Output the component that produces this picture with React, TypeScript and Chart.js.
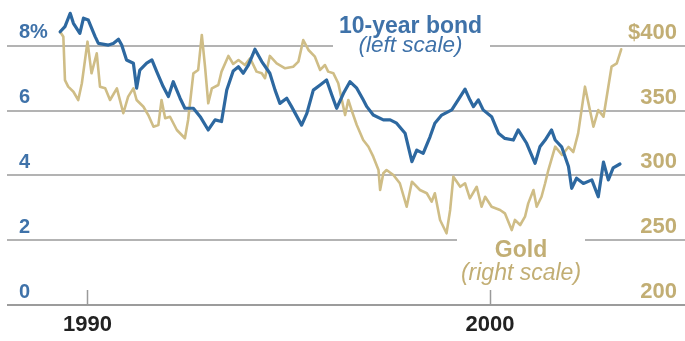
import React, { useEffect, useRef } from "react";
import { Chart, registerables } from "chart.js";

Chart.register(...registerables);

// 10-year bond yield (%), left scale
const bondYears = [
  1989.32, 1989.44, 1989.57, 1989.65, 1989.81, 1989.9, 1990.02, 1990.19, 1990.27, 1990.52,
  1990.64, 1990.77, 1990.85, 1990.97, 1991.14, 1991.22, 1991.3, 1991.47, 1991.6, 1991.72,
  1991.88, 1992.01, 1992.13, 1992.3, 1992.42, 1992.63, 1992.8, 1993.0, 1993.17, 1993.33,
  1993.46, 1993.62, 1993.75, 1993.87, 1994.0, 1994.16, 1994.33, 1994.53, 1994.66, 1994.78,
  1994.95, 1995.07, 1995.32, 1995.45, 1995.61, 1995.78, 1995.94, 1996.07, 1996.19, 1996.36,
  1996.52, 1996.69, 1996.85, 1996.94, 1997.1, 1997.35, 1997.52, 1997.68, 1997.89, 1998.06,
  1998.18, 1998.34, 1998.51, 1998.63, 1998.8, 1999.05, 1999.21, 1999.38, 1999.5, 1999.59,
  1999.71, 1999.83, 2000.04, 2000.21, 2000.37, 2000.58, 2000.7, 2000.91, 2001.12, 2001.24,
  2001.37, 2001.53, 2001.62, 2001.78, 2001.95, 2002.03, 2002.15, 2002.32, 2002.53, 2002.69,
  2002.82, 2002.94, 2003.06, 2003.23,
];
const bondYield = [
  8.43, 8.59, 9.0, 8.69, 8.38, 8.85, 8.79, 8.28, 8.07, 8.02,
  8.07, 8.2, 8.02, 7.56, 7.46, 6.69, 7.25, 7.46, 7.56, 7.2,
  6.74, 6.43, 6.89, 6.38, 6.07, 6.07, 5.81, 5.4, 5.71, 5.66,
  6.63, 7.22, 7.35, 7.15, 7.41, 7.89, 7.51, 7.15, 6.63, 6.22,
  6.38, 6.12, 5.55, 5.91, 6.63, 6.79, 6.94, 6.48, 6.07, 6.53,
  6.89, 6.69, 6.33, 6.12, 5.86, 5.71, 5.71, 5.61, 5.3, 4.42,
  4.78, 4.68, 5.19, 5.61, 5.86, 6.02, 6.33, 6.66, 6.33, 6.12,
  6.33, 6.02, 5.81, 5.3, 5.14, 5.09, 5.4, 4.99, 4.37, 4.88,
  5.09, 5.4, 5.09, 4.88, 4.27, 3.6, 3.91, 3.75, 3.86, 3.34,
  4.41, 3.86, 4.23, 4.35,
];

// Gold price ($), right scale
const goldYears = [
  1989.32, 1989.4, 1989.44, 1989.52, 1989.65, 1989.77, 1989.86, 1990.0, 1990.1, 1990.23,
  1990.31, 1990.44, 1990.56, 1990.73, 1990.89, 1991.01, 1991.14, 1991.22, 1991.39, 1991.51,
  1991.64, 1991.76, 1991.84, 1991.93, 1992.05, 1992.22, 1992.42, 1992.5, 1992.63, 1992.75,
  1992.84, 1992.92, 1993.0, 1993.09, 1993.25, 1993.33, 1993.5, 1993.62, 1993.75, 1993.91,
  1994.04, 1994.2, 1994.33, 1994.41, 1994.53, 1994.7, 1994.91, 1995.11, 1995.24, 1995.36,
  1995.49, 1995.65, 1995.78, 1995.9, 1995.98, 1996.11, 1996.23, 1996.32, 1996.4, 1996.48,
  1996.56, 1996.69, 1996.85, 1996.98, 1997.1, 1997.23, 1997.27, 1997.35, 1997.43, 1997.6,
  1997.76, 1997.93, 1998.06, 1998.26, 1998.43, 1998.55, 1998.63, 1998.76, 1998.92, 1999.01,
  1999.09, 1999.26, 1999.38, 1999.5, 1999.67, 1999.79, 1999.88, 2000.04, 2000.25, 2000.37,
  2000.54, 2000.62, 2000.75, 2000.87, 2000.95, 2001.08, 2001.16, 2001.28, 2001.37, 2001.45,
  2001.62, 2001.79, 2001.95, 2002.07, 2002.19, 2002.36, 2002.57, 2002.69, 2002.82, 2002.94,
  2003.02, 2003.15, 2003.26,
];
const goldPrice = [
  410.8, 406.9, 373.5, 368.4, 364.5, 358.1, 371.0, 403.1, 378.7, 394.1,
  368.4, 367.1, 358.1, 367.1, 347.9, 360.7, 367.1, 358.1, 352.9, 346.5,
  337.5, 338.8, 358.1, 344.0, 345.2, 335.0, 328.6, 342.7, 378.7, 381.3,
  408.3, 383.8, 355.6, 367.1, 369.7, 380.0, 392.1, 385.9, 389.0, 385.1,
  390.3, 380.0, 378.7, 374.9, 392.1, 386.4, 382.6, 383.8, 387.7, 404.4,
  396.7, 391.5, 381.3, 385.1, 380.0, 378.7, 371.0, 358.1, 346.5, 358.1,
  350.4, 338.8, 327.3, 322.1, 314.4, 304.1, 288.7, 301.6, 304.1, 300.3,
  293.9, 275.8, 295.1, 288.7, 286.2, 279.7, 286.2, 265.6, 255.3, 273.3,
  299.0, 291.2, 293.9, 282.3, 291.2, 275.8, 283.5, 275.8, 273.3, 270.7,
  257.8, 265.6, 261.7, 268.1, 278.4, 288.7, 275.8, 283.5, 293.9, 304.1,
  322.1, 315.7, 321.9, 318.0, 332.4, 368.4, 337.5, 350.4, 345.2, 368.4,
  383.8, 386.4, 397.2,
];

const leftTicks = [0, 2, 4, 6, 8];
const rightTicks = [200, 250, 300, 350, 400];
const yearTicks = [1990, 2000];

const FONT = '"Liberation Sans", Arial, Helvetica, sans-serif';
const BLUE_LINE = "#2d68a0";
const BLUE_TEXT = "#3f72a9";
const GOLD_LINE = "#cfbd86";
const GOLD_TEXT = "#c2ae74";
const GRID = "#b3b3b3";

export default function App() {
  const ref = useRef<HTMLCanvasElement>(null);

  useEffect(() => {
    const canvas = ref.current;
    if (!canvas) return;

    const annot = {
      id: "annot",
      beforeDatasetsDraw(chart: any) {
        const { ctx, chartArea, scales } = chart;
        const y = scales.y;
        const x = scales.x;
        ctx.save();
        ctx.fillStyle = "#ffffff";
        const y8 = y.getPixelForValue(8);
        ctx.fillRect(333, y8 - 3, 157, 6);
        const y2 = y.getPixelForValue(2);
        ctx.fillRect(457, y2 - 3, 128, 6);
        ctx.strokeStyle = "#9a9a9a";
        ctx.lineWidth = 1.5;
        for (const t of yearTicks) {
          const px = Math.round(x.getPixelForValue(t)) + 0.5;
          ctx.beginPath();
          ctx.moveTo(px, chartArea.bottom);
          ctx.lineTo(px, chartArea.bottom - 15);
          ctx.stroke();
        }
        ctx.restore();
      },
      afterDraw(chart: any) {
        const { ctx } = chart;
        ctx.save();
        ctx.textAlign = "center";
        ctx.textBaseline = "alphabetic";
        ctx.fillStyle = BLUE_TEXT;
        ctx.font = `bold 23px ${FONT}`;
        ctx.fillText("10-year bond", 410.5, 32.5);
        ctx.font = `italic 22.5px ${FONT}`;
        ctx.fillText("(left scale)", 410.5, 52);
        ctx.fillStyle = GOLD_TEXT;
        ctx.font = `bold 23px ${FONT}`;
        ctx.fillText("Gold", 521, 256.5);
        ctx.font = `italic 23px ${FONT}`;
        ctx.fillText("(right scale)", 521, 280);
        ctx.restore();
      },
    };

    const chart = new Chart(canvas, {
      type: "line",
      data: {
        datasets: [
          {
            label: "10-year bond",
            data: bondYears.map((yr, i) => ({ x: yr, y: bondYield[i] })),
            borderColor: BLUE_LINE,
            borderWidth: 3.2,
            yAxisID: "y",
            pointRadius: 0,
            tension: 0,
            clip: false as any,
            borderJoinStyle: "round",
            borderCapStyle: "round",
          },
          {
            label: "Gold",
            data: goldYears.map((yr, i) => ({ x: yr, y: goldPrice[i] })),
            borderColor: GOLD_LINE,
            borderWidth: 2.6,
            yAxisID: "y2",
            pointRadius: 0,
            tension: 0,
            clip: false as any,
            borderJoinStyle: "round",
            borderCapStyle: "round",
          },
        ],
      },
      options: {
        responsive: false,
        devicePixelRatio: 1,
        animation: false,
        events: [],
        layout: { padding: { top: 45.7, left: 7, right: 0, bottom: 0 } },
        plugins: { legend: { display: false }, tooltip: { enabled: false } },
        scales: {
          x: {
            type: "linear",
            min: 1988.0,
            max: 2004.845,
            afterBuildTicks: (s: any) => {
              s.ticks = yearTicks.map((v) => ({ value: v }));
            },
            afterFit: (s: any) => {
              s.height = 36;
            },
            grid: { display: false, drawTicks: false },
            border: { display: false },
            ticks: {
              padding: 7,
              color: "#222222",
              font: { family: FONT, size: 22, weight: "bold" },
              maxRotation: 0,
              autoSkip: false,
              callback: (v: any) => String(v),
            },
          },
          y: {
            type: "linear",
            position: "left",
            min: 0,
            max: 8,
            afterBuildTicks: (s: any) => {
              s.ticks = leftTicks.map((v) => ({ value: v }));
            },
            afterFit: (s: any) => {
              s.width = 0;
            },
            grid: {
              drawTicks: false,
              lineWidth: 2,
              color: (c: any) => (c.tick && c.tick.value === 0 ? "#9c9c9c" : GRID),
            },
            border: { display: false },
            ticks: {
              mirror: true,
              padding: 12,
              labelOffset: -13,
              color: BLUE_TEXT,
              font: { family: FONT, size: 20, weight: "bold" },
              callback: (v: any) => (v === 8 ? "8%" : String(v)),
            },
          },
          y2: {
            type: "linear",
            position: "right",
            min: 200,
            max: 400,
            afterBuildTicks: (s: any) => {
              s.ticks = rightTicks.map((v) => ({ value: v }));
            },
            afterFit: (s: any) => {
              s.width = 0;
            },
            grid: { display: false, drawTicks: false },
            border: { display: false },
            ticks: {
              mirror: true,
              padding: -8,
              labelOffset: -13,
              color: GOLD_TEXT,
              font: { family: FONT, size: 22, weight: "bold" },
              callback: (v: any) => (v === 400 ? "$400" : String(v)),
            },
          },
        },
      },
      plugins: [annot],
    });

    return () => chart.destroy();
  }, []);

  return (
    <div style={{ position: "fixed", left: 0, top: 0, width: 685, height: 341, background: "#fff" }}>
      <canvas ref={ref} width={685} height={341} style={{ display: "block" }} />
    </div>
  );
}
